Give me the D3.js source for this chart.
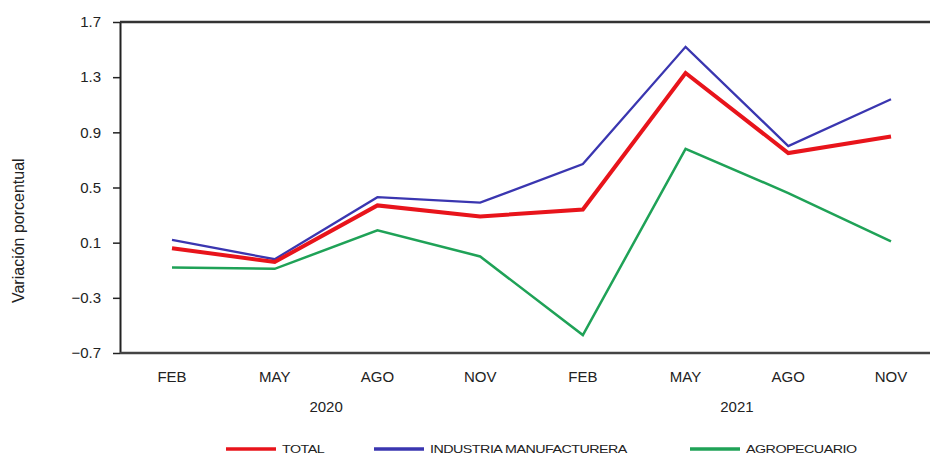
<!DOCTYPE html>
<meta charset="utf-8">
<script src="https://d3js.org/d3.v7.min.js"></script>
<style>
  body { margin: 0; background: #fff; }
  text { font-family: "Liberation Sans", Arial, sans-serif; fill: #222; }
</style>
<div id="my_dataviz"></div>
<script>

// periods (month + year)
var months = ["FEB", "MAY", "AGO", "NOV", "FEB", "MAY", "AGO", "NOV"];
var years = ["2020", "2021"];
var yTicks = [-0.7, -0.3, 0.1, 0.5, 0.9, 1.3, 1.7];

// series values, variacion porcentual
var total      = [0.06, -0.04, 0.37, 0.29, 0.34, 1.33, 0.75, 0.87];
var industria  = [0.12, -0.02, 0.43, 0.39, 0.67, 1.52, 0.80, 1.14];
var agro       = [-0.08, -0.09, 0.19, 0.00, -0.57, 0.78, 0.46, 0.11];

var series = [
  {name: "TOTAL", values: total, color: "#e8141b", width: 4},
  {name: "INDUSTRIA MANUFACTURERA", values: industria, color: "#3a36b0", width: 2.3},
  {name: "AGROPECUARIO", values: agro, color: "#1fa257", width: 2.5}
];

var W = 930, H = 455;
var margin = {top: 22, right: 0, bottom: 102, left: 120},
    width = W - margin.left - margin.right,
    height = H - margin.top - margin.bottom;

var svg = d3.select("#my_dataviz")
  .append("svg")
    .attr("width", W)
    .attr("height", H)
  .append("g")
    .attr("transform", "translate(" + margin.left + "," + margin.top + ")");

// X scale: index of period
var x = d3.scaleLinear()
  .domain([0, months.length - 1])
  .range([52, 771]);

var y = d3.scaleLinear()
  .domain([-0.7, 1.7])
  .range([height, 0]);

// Y axis
var yAxis = svg.append("g")
  .call(d3.axisLeft(y).tickValues(yTicks).tickFormat(d3.format(".1f")).tickSize(7).tickSizeOuter(0));
yAxis.select(".domain").attr("stroke", "#222").attr("stroke-width", 2);
yAxis.selectAll(".tick line").attr("stroke", "#222").attr("stroke-width", 1.5);
yAxis.selectAll(".tick text")
  .attr("x", -19)
  .style("font-size", "15px")
  .style("font-family", "Liberation Sans, Arial, sans-serif")
  .attr("fill", "#222");

// top and bottom frame lines
svg.append("line")
  .attr("x1", 0).attr("x2", width)
  .attr("y1", y(1.7)).attr("y2", y(1.7))
  .attr("stroke", "#333").attr("stroke-width", 2.5);
svg.append("line")
  .attr("x1", 0).attr("x2", width)
  .attr("y1", y(-0.7)).attr("y2", y(-0.7))
  .attr("stroke", "#444").attr("stroke-width", 2.5);

// month labels
svg.selectAll(".month")
  .data(months)
  .enter()
  .append("text")
    .attr("class", "month")
    .attr("x", function(d, i) { return x(i); })
    .attr("y", height + 29)
    .attr("text-anchor", "middle")
    .style("font-size", "15px")
    .text(function(d) { return d; });

// year labels centred under each group of 4
svg.selectAll(".year")
  .data(years)
  .enter()
  .append("text")
    .attr("class", "year")
    .attr("x", function(d, i) { return x(i * 4 + 1.5); })
    .attr("y", height + 59)
    .attr("text-anchor", "middle")
    .style("font-size", "15px")
    .text(function(d) { return d; });

// y axis title
svg.append("text")
  .attr("transform", "translate(" + (-96) + "," + (y(0.1) - 12) + ") rotate(-90)")
  .attr("text-anchor", "middle")
  .style("font-size", "16px")
  .text("Variación porcentual");

// lines
var line = d3.line()
  .x(function(d, i) { return x(i); })
  .y(function(d) { return y(d); });

// draw green, blue, then red on top
[series[2], series[1], series[0]].forEach(function(s) {
  svg.append("path")
    .datum(s.values)
    .attr("fill", "none")
    .attr("stroke", s.color)
    .attr("stroke-width", s.width)
    .attr("stroke-linejoin", "miter")
    .attr("d", line);
});

// legend
var legendX = [226, 374, 690];
var legend = svg.selectAll(".legend")
  .data(series)
  .enter()
  .append("g")
    .attr("class", "legend")
    .attr("transform", function(d, i) {
      return "translate(" + (legendX[i] - margin.left) + "," + (449 - margin.top) + ")";
    });
legend.append("line")
  .attr("x1", 0).attr("x2", 50)
  .attr("stroke", function(d) { return d.color; })
  .attr("stroke-width", 3.5);
legend.append("text")
  .attr("transform", "translate(56,4) scale(1.3,1)")
  .style("font-size", "11px")
  .style("letter-spacing", "-0.4px")
  .text(function(d) { return d.name; });

</script>
